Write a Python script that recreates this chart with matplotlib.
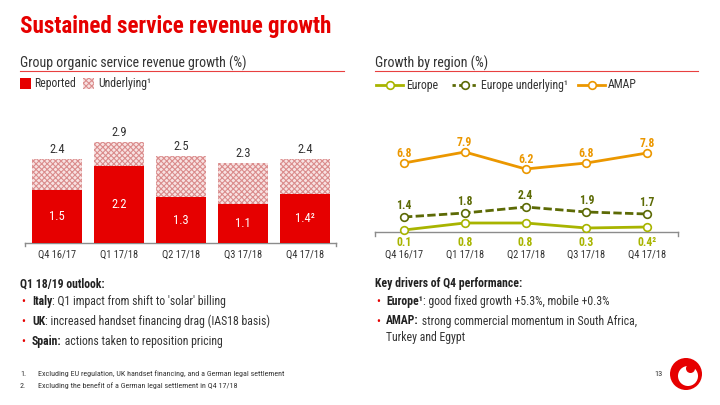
import matplotlib
matplotlib.use("Agg")
import matplotlib.pyplot as plt
from matplotlib import font_manager
from matplotlib.patches import Circle, Rectangle

# ---------------- data ----------------
quarters = ['Q4 16/17', 'Q1 17/18', 'Q2 17/18', 'Q3 17/18', 'Q4 17/18']
reported = [1.5, 2.2, 1.3, 1.1, 1.4]
underlying = [2.4, 2.9, 2.5, 2.3, 2.4]
reported_notes = ['', '', '', '', '²']

europe = [0.1, 0.8, 0.8, 0.3, 0.4]
europe_notes = ['', '', '', '', '²']
europe_underlying = [1.4, 1.8, 2.4, 1.9, 1.7]
amap = [6.8, 7.9, 6.2, 6.8, 7.8]

# ---------------- style ----------------
names = {f.name for f in font_manager.fontManager.ttflist}
FONT = 'DejaVu Sans'
for cand in ['Liberation Sans Narrow', 'Roboto Condensed', 'Open Sans Condensed', 'Liberation Sans']:
    if cand in names:
        FONT = cand
        break
plt.rcParams['font.family'] = [FONT, 'DejaVu Sans']
plt.rcParams['hatch.linewidth'] = 0.8

RED = '#E60000'
DARK = '#333333'
GREEN = '#A8B400'
OLIVE = '#5C6A05'
ORANGE = '#EB9700'
GREY = '#8C8C8C'
HATCH_FACE = '#F8E2E2'
HATCH_EDGE = '#DA8C8C'
HATCH = 'xxxxxx'

W, H = 720, 405
fig = plt.figure(figsize=(7.2, 4.05), dpi=100)
fig.patch.set_facecolor('white')


def ax_at(x0, y0, x1, y1):
    return fig.add_axes([x0 / W, 1 - y1 / H, (x1 - x0) / W, (y1 - y0) / H])


PX = 0.72  # points per pixel

# ---------------- left: bar chart ----------------
axl = ax_at(25, 131.3, 336, 242.7)
axl.set_xlim(-0.516, 4.5)
axl.set_ylim(0, 3.2)
xs = list(range(len(quarters)))
axl.bar(xs, underlying, width=0.8, color=HATCH_FACE, edgecolor=HATCH_EDGE,
        hatch=HATCH, linewidth=0, zorder=2)
axl.bar(xs, reported, width=0.8, color=RED, linewidth=0, zorder=3)
for i in xs:
    axl.annotate(f'{underlying[i]:.1f}', xy=(i, underlying[i]), xytext=(0, 9.4 * PX),
                 textcoords='offset points', ha='center', va='center',
                 fontsize=9, color=DARK)
    axl.annotate(f'{reported[i]:.1f}{reported_notes[i]}', xy=(i, reported[i] / 2),
                 ha='center', va='center', fontsize=9, color='white', zorder=4)
for s in ['top', 'right', 'left']:
    axl.spines[s].set_visible(False)
axl.spines['bottom'].set_color(GREY)
axl.spines['bottom'].set_linewidth(1)
axl.set_yticks([])
axl.set_xticks(xs, quarters)
axl.tick_params(axis='x', length=0, pad=5, labelsize=7.5, labelcolor=DARK)
axl.patch.set_alpha(0)

# ---------------- right: line chart ----------------
axr = ax_at(375, 132.3, 678, 232.3)
axr.set_xlim(-0.477, 4.507)
axr.set_ylim(-0.13, 9.87)
mk = dict(marker='o', markersize=5.5, markerfacecolor='white', markeredgewidth=1.2)
axr.plot(xs, amap, color=ORANGE, lw=2, markeredgecolor=ORANGE, zorder=3, **mk)
axr.plot(xs, europe_underlying, color=OLIVE, lw=2, ls=(0, (3, 1.2)),
         markeredgecolor=OLIVE, zorder=3, **mk)
axr.plot(xs, europe, color=GREEN, lw=2, markeredgecolor=GREEN, zorder=3, clip_on=False, **mk)
for i in xs:
    axr.annotate(f'{amap[i]:.1f}', xy=(i, amap[i]), xytext=(0, 9.3 * PX),
                 textcoords='offset points', ha='center', va='center',
                 fontsize=8.5, fontweight='bold', color=ORANGE)
    axr.annotate(f'{europe_underlying[i]:.1f}', xy=(i, europe_underlying[i]),
                 xytext=(0, 11 * PX), textcoords='offset points', ha='center',
                 va='center', fontsize=8.5, fontweight='bold', color=OLIVE)
    axr.annotate(f'{europe[i]:.1f}{europe_notes[i]}', xy=(i, 0),
                 xycoords=('data', 'axes fraction'), xytext=(0, -10.5 * PX),
                 textcoords='offset points', ha='center', va='center',
                 fontsize=8.5, fontweight='bold', color=GREEN)
for s in ['top', 'right', 'left']:
    axr.spines[s].set_visible(False)
axr.spines['bottom'].set_color(GREY)
axr.spines['bottom'].set_linewidth(1)
axr.set_yticks([])
axr.set_xticks(xs, quarters)
axr.tick_params(axis='x', length=0, pad=12.5, labelsize=7.5, labelcolor=DARK)
axr.patch.set_alpha(0)

# ---------------- overlay (pixel coordinates) ----------------
ov2 = fig.add_axes([0, 0, 1, 1], zorder=10)
ov2.set_xlim(0, W)
ov2.set_ylim(H, 0)
ov2.axis('off')
ov2.patch.set_alpha(0)

renderer = fig.canvas.get_renderer()


def rich(x, y, parts, size, ax=ov2):
    for txt, weight, color in parts:
        t = ax.text(x, y, txt, fontsize=size, fontweight=weight, color=color,
                    ha='left', va='center')
        x += t.get_window_extent(renderer=renderer).width


# title
ov2.text(20, 33, 'Sustained service revenue growth', fontsize=16.6, fontweight='bold',
         color=RED, ha='left', va='baseline')

# section headings with red rules
ov2.text(20, 63, 'Group organic service revenue growth (%)', fontsize=10,
         color=DARK, ha='left', va='center')
ov2.plot([20, 344], [71, 71], color='#E84040', lw=0.8)
ov2.text(375, 63, 'Growth by region (%)', fontsize=10, color=DARK, ha='left', va='center')
ov2.plot([375, 698], [71, 71], color='#E84040', lw=0.8)

# end ticks on axes
for x0 in (25, 336):
    ov2.plot([x0, x0], [242.7, 246], color=GREY, lw=1)
for x0 in (375, 678):
    ov2.plot([x0, x0], [232.3, 235.5], color=GREY, lw=1)

# left legend
ov2.add_patch(Rectangle((20, 78), 11, 11, color=RED, lw=0))
ov2.text(34, 84, 'Reported', fontsize=8.5, color=DARK, ha='left', va='center')
ov2.add_patch(Rectangle((83, 78), 11, 11, facecolor=HATCH_FACE, edgecolor=HATCH_EDGE,
                        hatch=HATCH, lw=0))
ov2.text(98, 84, 'Underlying¹', fontsize=8.5, color=DARK, ha='left', va='center')

# right legend
ly = 85
ov2.plot([376, 403], [ly, ly], color=GREEN, lw=2)
ov2.plot([389.5], [ly], 'o', ms=5.5, mfc='white', mec=GREEN, mew=1.2)
ov2.text(406, ly, 'Europe', fontsize=8.5, color=DARK, ha='left', va='center')
ov2.plot([452, 478], [ly, ly], color=OLIVE, lw=2, ls=(0, (1.2, 1.2)))
ov2.plot([465], [ly], 'o', ms=5.5, mfc='white', mec=OLIVE, mew=1.2)
ov2.text(481, ly, 'Europe underlying¹', fontsize=8.5, color=DARK, ha='left', va='center')
ov2.plot([578, 605], [ly, ly], color=ORANGE, lw=2)
ov2.plot([591.5], [ly], 'o', ms=5.5, mfc='white', mec=ORANGE, mew=1.2)
ov2.text(608, ly, 'AMAP', fontsize=8.5, color=DARK, ha='left', va='center')

# bottom-left text
BS = 8.5
ov2.text(20, 284, 'Q1 18/19 outlook:', fontsize=BS, fontweight='bold', color='#222222',
         ha='left', va='center')
left_bullets = [
    [('Italy', 'bold', '#222222'), (": Q1 impact from shift to 'solar' billing", 'normal', DARK)],
    [('UK', 'bold', '#222222'), (': increased handset financing drag (IAS18 basis)', 'normal', DARK)],
    [('Spain:', 'bold', '#222222'), (' actions taken to reposition pricing', 'normal', DARK)],
]
for k, parts in enumerate(left_bullets):
    y = [302, 321.5, 341][k]
    ov2.text(21, y, '•', fontsize=BS, color=RED, ha='left', va='center')
    rich(32, y, parts, BS)

ov2.text(375, 284, 'Key drivers of Q4 performance:', fontsize=BS, fontweight='bold',
         color='#222222', ha='left', va='center')
ov2.text(376, 302, '•', fontsize=BS, color=RED, ha='left', va='center')
rich(386, 302, [('Europe¹', 'bold', '#222222'), (': good fixed growth +5.3%, mobile +0.3%', 'normal', DARK)], BS)
ov2.text(376, 321, '•', fontsize=BS, color=RED, ha='left', va='center')
rich(386, 321, [('AMAP:', 'bold', '#222222'), (' strong commercial momentum in South Africa,', 'normal', DARK)], BS)
ov2.text(386, 338, 'Turkey and Egypt', fontsize=BS, color=DARK, ha='left', va='center')

# footnotes
FS = 5.8
ov2.text(20, 374, '1.', fontsize=FS, color=DARK, ha='left', va='center')
ov2.text(38, 374, 'Excluding EU regulation, UK handset financing, and a German legal settlement',
         fontsize=FS, color=DARK, ha='left', va='center')
ov2.text(20, 386, '2.', fontsize=FS, color=DARK, ha='left', va='center')
ov2.text(38, 386, 'Excluding the benefit of a German legal settlement in Q4 17/18',
         fontsize=FS, color=DARK, ha='left', va='center')
ov2.text(663, 374, '13', fontsize=6, color=DARK, ha='right', va='center')

# logo
cx, cy, r = 686, 374, 16
ov2.add_patch(Circle((cx, cy), r, color=RED, lw=0))
ov2.add_patch(Circle((cx + 2, cy + 2), 10, color='white', lw=0))
ov2.add_patch(Circle((cx + 4.5, cy - 5.5), 4.5, color=RED, lw=0))
ov2.set_aspect('auto')

fig.savefig('out.png', dpi=100, facecolor='white')
